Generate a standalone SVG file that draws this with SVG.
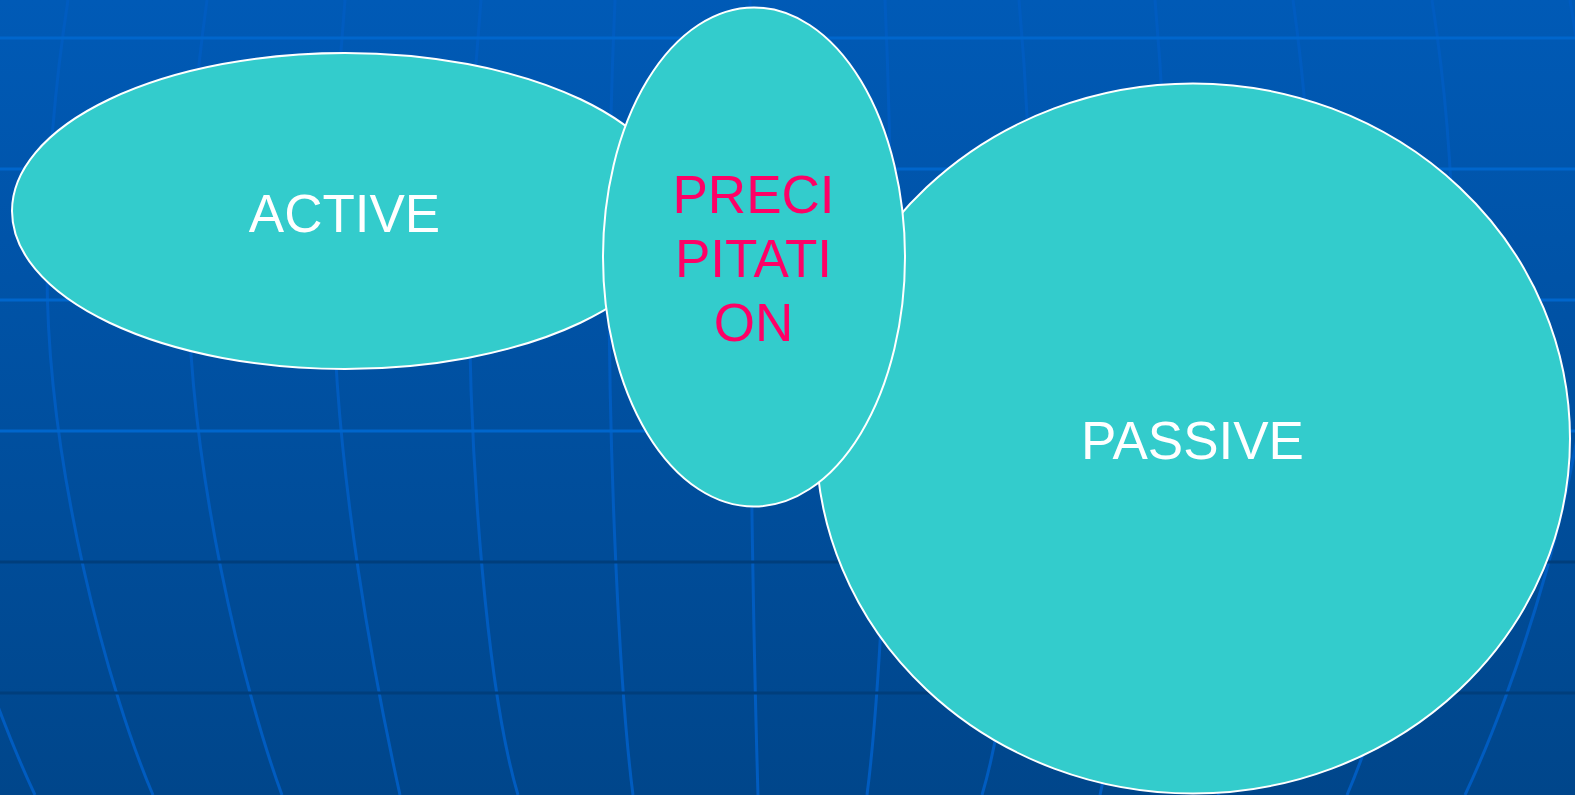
<svg xmlns="http://www.w3.org/2000/svg" width="1575" height="795" viewBox="0 0 1575 795">
<defs>
<linearGradient id="bg" x1="0" y1="0" x2="0" y2="1">
<stop offset="0" stop-color="#005AB6"/>
<stop offset="1" stop-color="#00468B"/>
</linearGradient>
<style>
.mer{fill:none;stroke:#005CC0;stroke-width:3}
.hl{stroke:#0066CC;stroke-width:3}
.hd{stroke:#003E7C;stroke-width:3}
.node{fill:#33CCCC;stroke:#FFFFFF;stroke-width:2}
.lbl{font-family:"Liberation Sans",Arial,sans-serif;font-size:53px;text-anchor:middle}
.w{fill:#FFFFFF}
.p{fill:#FF0066}
</style>
<g id="half">
<path class="mer" d="M-70,0 Q-93,135 -93,270 C-93,470 -12,695 35,795"/>
<path class="mer" d="M68,0 Q47,135 47,270 C47,470 110,695 153,795"/>
<path class="mer" d="M207,0 Q188,135 188,270 C188,470 245,695 282,795"/>
<path class="mer" d="M345,0 Q333,135 333,270 C333,470 378,695 400,795"/>
<path class="mer" d="M481,0 Q469,135 469,270 C469,470 488,695 518,795"/>
<path class="mer" d="M615,0 Q609,135 609,270 C609,470 620,695 633,795"/>
</g>
</defs>
<g id="background">
<rect x="0" y="0" width="1575" height="795" fill="url(#bg)"/>
<use href="#half"/>
<use href="#half" transform="matrix(-1 0 0 1 1500 0)"/>
<path class="mer" d="M750,0 L750,270 C750,470 755,695 758,795"/>
<line class="hl" x1="0" y1="38" x2="1575" y2="38"/>
<line class="hl" x1="0" y1="169" x2="1575" y2="169"/>
<line class="hl" x1="0" y1="300" x2="1575" y2="300"/>
<line class="hl" x1="0" y1="431" x2="1575" y2="431"/>
<line class="hd" x1="0" y1="562" x2="1575" y2="562"/>
<line class="hd" x1="0" y1="693" x2="1575" y2="693"/>
</g>
<g id="connectors"/>
<g id="active">
<ellipse class="node" cx="345" cy="211" rx="333" ry="158"/>
<text class="lbl w" x="344.5" y="231.5">ACTIVE</text>
</g>
<g id="passive">
<ellipse class="node" cx="1193" cy="438.5" rx="377" ry="355"/>
<text class="lbl w" x="1192.5" y="458.5">PASSIVE</text>
</g>
<g id="precipitation">
<ellipse class="node" cx="754" cy="257" rx="151" ry="249.5"/>
<text class="lbl p" x="753.5" y="213">PRECI</text>
<text class="lbl p" x="753.5" y="276.5">PITATI</text>
<text class="lbl p" x="753.5" y="340.5">ON</text>
</g>
</svg>
